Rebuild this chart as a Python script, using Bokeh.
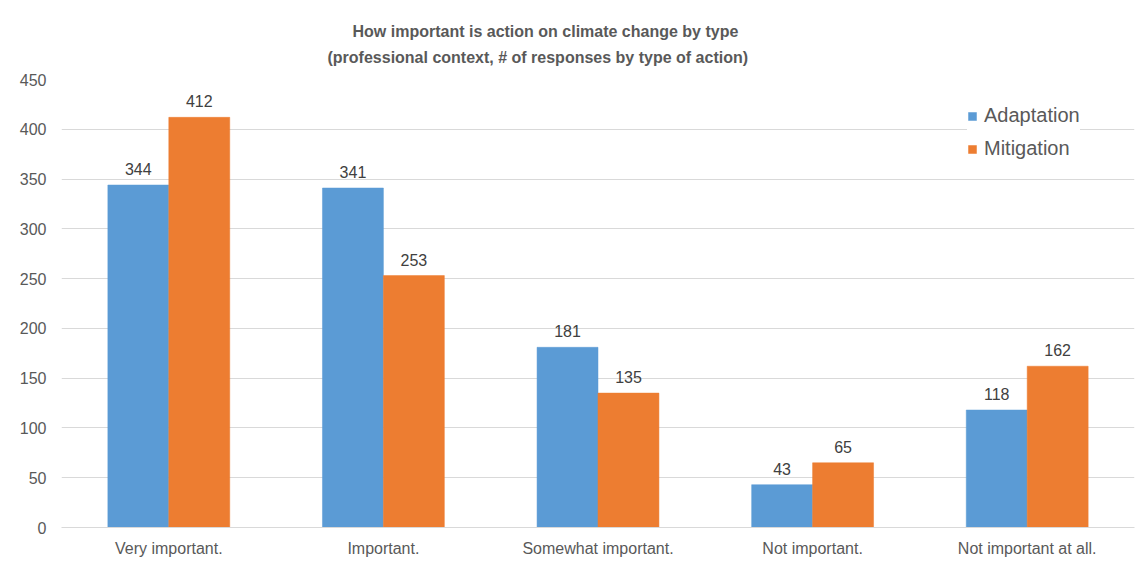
from bokeh.plotting import figure
from bokeh.models import (ColumnDataSource, FactorRange, Range1d, LabelSet, Title,
                          Legend, LegendItem, FixedTicker)
from bokeh.core.properties import value
from bokeh.transform import dodge
from bokeh.embed import file_html
from bokeh.resources import INLINE

categories = ["Very important.", "Important.", "Somewhat important.",
              "Not important.", "Not important at all."]
adaptation = [344, 341, 181, 43, 118]
mitigation = [412, 253, 135, 65, 162]
y_ticks = [0, 50, 100, 150, 200, 250, 300, 350, 400, 450]
title_lines = ["How important is action on climate change by type",
               "(professional  context, # of responses  by type of action)"]

BLUE = "#5B9BD5"
ORANGE = "#ED7D31"
GRID = "#D9D9D9"
TXT = "#595959"
FONT = "Liberation Sans"

src = ColumnDataSource(dict(cat=categories, a=adaptation, m=mitigation,
                            at=[str(v) for v in adaptation],
                            mt=[str(v) for v in mitigation]))

p = figure(x_range=FactorRange(*categories), y_range=Range1d(0, 450),
           width=1136, height=565, output_backend="svg", toolbar_location=None,
           min_border_left=61, min_border_right=2, min_border_top=79,
           min_border_bottom=38)
p.outline_line_color = None
p.background_fill_color = "white"
p.border_fill_color = "white"

bw = 0.284
off = 0.142
r1 = p.vbar(x=dodge("cat", -off, range=p.x_range), top="a", width=bw, source=src,
            fill_color=BLUE, line_color=BLUE, line_width=0.5)
r2 = p.vbar(x=dodge("cat", off, range=p.x_range), top="m", width=bw, source=src,
            fill_color=ORANGE, line_color=ORANGE, line_width=0.5)

for col, ycol, d in (("at", "a", -off), ("mt", "m", off)):
    p.add_layout(LabelSet(x=dodge("cat", d, range=p.x_range),
                          y=ycol, text=col, source=src,
                          text_align="center", text_baseline="alphabetic",
                          y_offset=10, text_font=value(FONT),
                          text_font_size=value("16px"),
                          text_color=value("#404040")))

# grid / axes
p.xgrid.grid_line_color = None
p.ygrid.grid_line_color = GRID
p.ygrid.grid_line_width = 1
p.yaxis.ticker = FixedTicker(ticks=y_ticks)
p.yaxis.axis_line_color = None
p.yaxis.major_tick_line_color = None
p.yaxis.minor_tick_line_color = None
p.yaxis.major_tick_out = 0
p.yaxis.major_tick_in = 0
p.yaxis.major_label_standoff = 15
p.yaxis.major_label_text_font = FONT
p.yaxis.major_label_text_font_size = "16px"
p.yaxis.major_label_text_color = TXT

p.xaxis.axis_line_color = GRID
p.xaxis.major_tick_line_color = None
p.xaxis.minor_tick_line_color = None
p.xaxis.major_tick_out = 0
p.xaxis.major_tick_in = 0
p.xaxis.major_label_standoff = 12
p.xaxis.major_label_text_font = FONT
p.xaxis.major_label_text_font_size = "16px"
p.xaxis.major_label_text_color = TXT

# two-line title; panels stack outward from the plot, so add a small spacer first
p.add_layout(Title(text=" ", standoff=8, text_font_size="1px"), "above")
p.add_layout(Title(text=title_lines[1], align="left", offset=266, standoff=6,
                   text_font=FONT, text_font_size="16px", text_font_style="bold",
                   text_color=TXT), "above")
p.add_layout(Title(text=title_lines[0], align="left", offset=291, standoff=7,
                   text_font=FONT, text_font_size="16px", text_font_style="bold",
                   text_color=TXT), "above")

legend = Legend(items=[LegendItem(label="Adaptation", renderers=[r1]),
                       LegendItem(label="Mitigation", renderers=[r2])],
                location=(906, 367), border_line_color=None,
                background_fill_color="white", background_fill_alpha=1.0,
                glyph_width=10, glyph_height=10, label_standoff=7,
                label_height=23, spacing=10, padding=8, margin=0,
                label_text_font=FONT, label_text_font_size="20px",
                label_text_color=TXT)
p.add_layout(legend)

open("out.html", "w").write(file_html(p, INLINE))
